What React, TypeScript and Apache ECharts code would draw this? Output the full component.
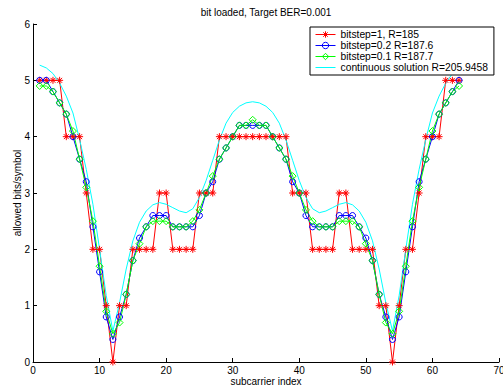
import React, { useEffect, useRef } from 'react';
import * as echarts from 'echarts';

const subcarrier = Array.from({ length: 64 }, (_, i) => i + 1);

const bitstep1 = [5, 5, 5, 5, 4, 4, 4, 3, 2, 2, 1, 0, 1, 1, 2, 2, 2, 2, 3, 3, 2, 2, 2, 2, 3, 3, 3, 4, 4, 4, 4, 4,
  4, 4, 4, 4, 4, 4, 3, 3, 3, 2, 2, 2, 2, 3, 3, 2, 2, 2, 2, 1, 1, 0, 1, 2, 2, 3, 4, 4, 4, 5, 5, 5];

const bitstep02 = [5.0, 5.0, 4.8, 4.6, 4.4, 4.0, 3.6, 3.2, 2.4, 1.6, 0.8, 0.4, 0.8, 1.2, 1.8, 2.2, 2.4, 2.6, 2.6, 2.6,
  2.4, 2.4, 2.4, 2.4, 2.6, 3.0, 3.2, 3.6, 3.8, 4.0, 4.2, 4.2, 4.2, 4.2, 4.2, 4.0, 3.8, 3.6, 3.2, 3.0,
  2.6, 2.4, 2.4, 2.4, 2.4, 2.6, 2.6, 2.6, 2.4, 2.2, 1.8, 1.2, 0.8, 0.4, 0.8, 1.6, 2.4, 3.2, 3.6, 4.0,
  4.4, 4.6, 4.8, 5.0];

const bitstep01 = [4.9, 4.9, 4.8, 4.6, 4.4, 4.1, 3.6, 3.1, 2.5, 1.7, 0.9, 0.5, 0.7, 1.2, 1.8, 2.1, 2.4, 2.5, 2.5, 2.5,
  2.4, 2.4, 2.4, 2.5, 2.7, 3.0, 3.3, 3.6, 3.8, 4.0, 4.2, 4.2, 4.3, 4.2, 4.2, 4.0, 3.8, 3.6, 3.3, 3.0,
  2.7, 2.5, 2.4, 2.4, 2.4, 2.5, 2.5, 2.5, 2.4, 2.1, 1.8, 1.2, 0.7, 0.5, 0.9, 1.7, 2.5, 3.1, 3.6, 4.1,
  4.4, 4.6, 4.8, 4.9];

const continuous = [5.27, 5.22, 5.12, 4.95, 4.72, 4.42, 3.95, 3.42, 2.8, 2.0, 1.18, 0.55, 1.05, 1.65, 2.15, 2.48,
  2.68, 2.79, 2.83, 2.8, 2.74, 2.68, 2.65, 2.72, 2.92, 3.22, 3.58, 3.94, 4.24, 4.43, 4.54, 4.6, 4.62,
  4.6, 4.54, 4.43, 4.24, 3.94, 3.58, 3.22, 2.92, 2.72, 2.65, 2.68, 2.74, 2.8, 2.83, 2.79, 2.68, 2.48,
  2.15, 1.65, 1.05, 0.55, 1.18, 2.0, 2.8, 3.42, 3.95, 4.42, 4.72, 4.95, 5.12, 5.22];

const seriesNames = [
  'bitstep=1, R=185',
  'bitstep=0.2 R=187.6',
  'bitstep=0.1 R=187.7',
  'continuous solution R=205.9458',
];
const seriesColors = ['#ff0000', '#0000ff', '#00ff00', '#00ffff'];

const titleText = 'bit loaded, Target BER=0.001';
const xName = 'subcarrier index';
const yName = 'allowed bits/symbol';

const FONT = '"Liberation Sans", Arial, Helvetica, sans-serif';
const STAR = 'path://M0 5L10 5M5 0L5 10M1.5 1.5L8.5 8.5M8.5 1.5L1.5 8.5';

export default function App() {
  const ref = useRef<HTMLDivElement>(null);

  useEffect(() => {
    const chart = echarts.init(ref.current!, null, { renderer: 'svg' });
    const pairs = (ys: number[]) => subcarrier.map((x, i) => [x, ys[i]]);

    const mk = (name: string, ys: number[], color: string, symbol: string, size: number) => ({
      name,
      type: 'line',
      data: pairs(ys),
      symbol,
      symbolSize: size,
      showSymbol: symbol !== 'none',
      silent: true,
      lineStyle: { color, width: 1 },
      itemStyle: { color: 'transparent', borderColor: color, borderWidth: symbol === 'none' ? 0 : 1 },
      emphasis: { disabled: true },
    });

    chart.setOption({
      animation: false,
      backgroundColor: '#ffffff',
      textStyle: { fontFamily: FONT },
      grid: { left: 33, right: 4, top: 24, bottom: 26, containLabel: false, outerBoundsMode: 'none' },
      graphic: [
        {
          type: 'text',
          x: 266,
          y: 12,
          silent: true,
          style: {
            text: titleText,
            fontSize: 10,
            fontFamily: FONT,
            fill: '#000',
            align: 'center',
            verticalAlign: 'middle',
          },
        },
      ],
      legend: {
        orient: 'vertical',
        left: 310,
        top: 27,
        padding: [2, 6, 2, 5],
        itemGap: 0,
        itemWidth: 20,
        itemHeight: 8,
        backgroundColor: '#fff',
        borderColor: '#000',
        borderWidth: 1,
        borderRadius: 0,
        selectedMode: false,
        textStyle: { fontSize: 10.3, color: '#000', lineHeight: 11, fontFamily: FONT },
        data: seriesNames.map((name, i) => ({
          name,
          itemStyle: {
            color: 'transparent',
            borderColor: seriesColors[i],
            borderWidth: i === 3 ? 0 : 1,
          },
          lineStyle: { color: seriesColors[i], width: 1 },
        })),
      },
      xAxis: {
        type: 'value',
        min: 0,
        max: 70,
        interval: 10,
        name: xName,
        nameLocation: 'middle',
        nameGap: 14,
        nameMoveOverlap: false,
        nameTextStyle: { fontSize: 10, color: '#000', fontFamily: FONT },
        axisLine: { show: true, onZero: false, lineStyle: { color: '#000', width: 1 } },
        axisTick: { show: true, inside: true, length: 4, lineStyle: { color: '#000' } },
        axisLabel: { color: '#000', fontSize: 10, margin: 3, fontFamily: FONT },
        splitLine: { show: false },
      },
      yAxis: {
        type: 'value',
        min: 0,
        max: 6,
        interval: 1,
        name: yName,
        nameLocation: 'middle',
        nameGap: 11,
        nameMoveOverlap: false,
        nameTextStyle: { fontSize: 10, color: '#000', fontFamily: FONT },
        axisLine: { show: true, lineStyle: { color: '#000', width: 1 } },
        axisTick: { show: true, inside: true, length: 4, lineStyle: { color: '#000' } },
        axisLabel: { color: '#000', fontSize: 10, margin: 3, fontFamily: FONT },
        splitLine: { show: false },
      },
      series: [
        mk(seriesNames[0], bitstep1, seriesColors[0], STAR, 7),
        mk(seriesNames[1], bitstep02, seriesColors[1], 'circle', 6),
        mk(seriesNames[2], bitstep01, seriesColors[2], 'diamond', 7),
        mk(seriesNames[3], continuous, seriesColors[3], 'none', 0),
      ],
    });

    return () => chart.dispose();
  }, []);

  return (
    <div
      ref={ref}
      style={{ position: 'absolute', left: 0, top: 0, width: 503, height: 388, background: '#fff' }}
    />
  );
}
